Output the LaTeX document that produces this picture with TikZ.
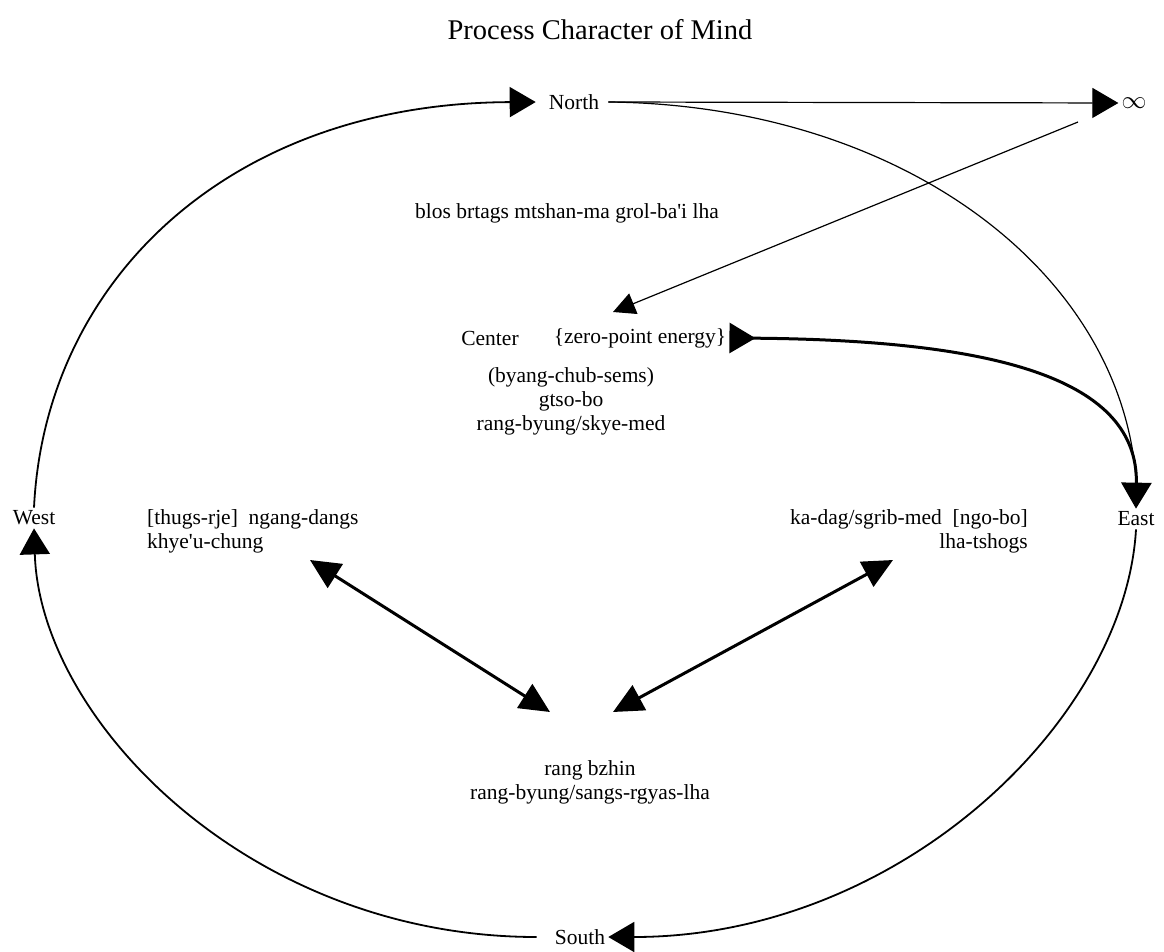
\documentclass[tikz,border=0pt]{standalone}
\usepackage{fontspec}
\setmainfont{Liberation Serif}
\usetikzlibrary{arrows.meta}
\begin{document}
\begin{tikzpicture}[x=1pt,y=-1pt,
  lbl/.style={font=\fontsize{21.5}{24}\selectfont, inner sep=3pt},
  titlefont/.style={font=\fontsize{28.5}{32}\selectfont},
  bigtip/.style={-{Triangle[length=26pt,width=30pt]}},
  ring/.style={line width=1.8pt},
  thin/.style={line width=1.2pt},
  thick/.style={line width=3pt},
  dbl/.style={line width=3pt,{Triangle[length=30pt,width=28pt]}-{Triangle[length=30pt,width=28pt]}}
]
\useasboundingbox (0,0) rectangle (1164,952);

\node[titlefont] (title) at (600,30) {Process Character of Mind};
\node[lbl] (north) at (574,102) {North};
\node[lbl,font=\fontsize{30}{32}\selectfont] (inf) at (1134,103) {$\infty$};
\node[lbl] (blos) at (567,213) {blos brtags mtshan-ma grol-ba\textquotesingle i lha};
\node[lbl] (center) at (490,338) {Center};
\node[lbl] (zpe) at (640,338) {\{zero-point energy\}};
\node[lbl,align=center] (cdesc) at (571,401) {(byang-chub-sems)\\gtso-bo\\rang-byung/skye-med};
\node[lbl] (west) at (34,518) {West};
\node[lbl] (east) at (1136,519) {East};
\node[lbl,anchor=west,align=left] (thugs) at (144,531) {[thugs-rje]\ \ ngang-dangs\\khye\textquotesingle u-chung};
\node[lbl,anchor=east,align=right] (kadag) at (1031,531) {ka-dag/sgrib-med\ \ [ngo-bo]\\lha-tshogs};
\node[lbl,align=center] (rang) at (590,782) {rang bzhin\\rang-byung/sangs-rgyas-lha};
\node[lbl] (south) at (580,937) {South};

\coordinate (ctip) at (613,312);
\coordinate (infout) at (1078,122);
\coordinate (ltop) at (310,560);
\coordinate (lbot) at (550,712);
\coordinate (rtop) at (893,560);
\coordinate (rbot) at (613,712);

% outer ring
\draw[ring,bigtip,shorten >=10pt] (west.north) .. controls (45,280) and (230,103) .. (north.west);
\draw[ring,bigtip,shorten <=15pt] (south.west) .. controls (250,937) and (40,720) .. (west.south);
\draw[ring,bigtip] (east.south) .. controls (1125,720) and (900,937) .. (south.east);

% north connections
\draw[thin,bigtip] ([xshift=6pt]north.east) -- (inf.west);
\draw[thin] ([xshift=6pt]north.east) .. controls (900,105) and (1120,270) .. ([yshift=30pt]east.north);
\draw[thin,-{Triangle[length=22pt,width=22pt]}] (infout) -- (ctip);

% zero-point energy to East
\draw[thick,{Triangle[reversed,length=26pt,width=30pt]}-{Triangle[length=26pt,width=30pt]}] (zpe.east) .. controls (1000,340) and (1138,380) .. (east.north);

% double arrows
\draw[dbl] (ltop) -- (lbot);
\draw[dbl] (rtop) -- (rbot);
\end{tikzpicture}
\end{document}
